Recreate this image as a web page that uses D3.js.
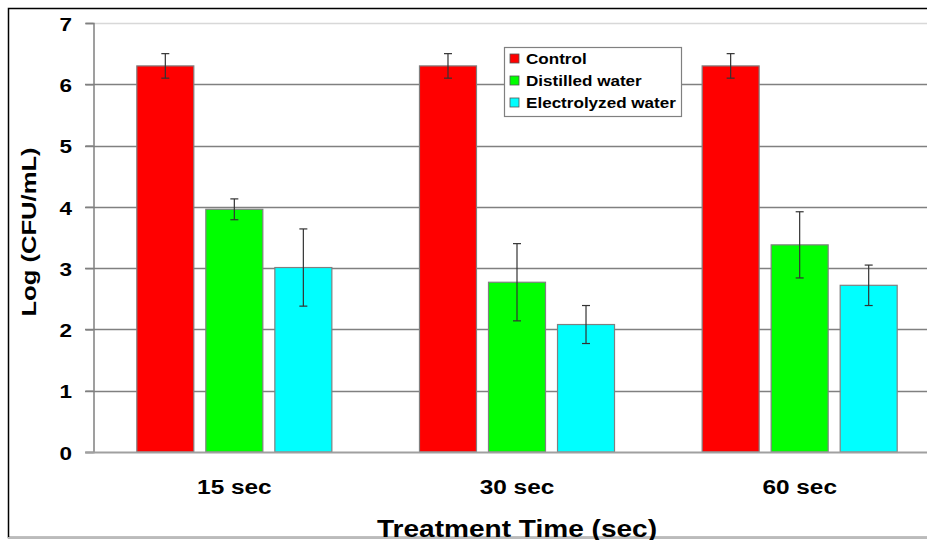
<!DOCTYPE html>
<html>
<head>
<meta charset="utf-8">
<script src="https://cdn.jsdelivr.net/npm/d3@7"></script>
<style>
  body { margin: 0; background: #fff; }
  svg text { font-family: "Liberation Sans", Arial, sans-serif; font-weight: bold; fill: #000; }
</style>
</head>
<body>
<div id="chart"></div>
<script>
// data
var times = ["15 sec", "30 sec", "60 sec"];
var seriesNames = ["Control", "Distilled water", "Electrolyzed water"];
var seriesColors = ["#ff0000", "#00ff00", "#00ffff"];
var controlValues = [6.30, 6.30, 6.30];
var controlErrors = [0.20, 0.20, 0.20];
var distilledValues = [3.96, 2.77, 3.38];
var distilledErrors = [0.17, 0.63, 0.54];
var electrolyzedValues = [3.01, 2.08, 2.72];
var electrolyzedErrors = [0.63, 0.31, 0.33];
var yTicks = [0, 1, 2, 3, 4, 5, 6, 7];

var valuesBySeries = [controlValues, distilledValues, electrolyzedValues];
var errorsBySeries = [controlErrors, distilledErrors, electrolyzedErrors];

var rows = [];
times.forEach(function (t, i) {
    seriesNames.forEach(function (s, j) {
        rows.push({ time: t, series: s, value: valuesBySeries[j][i], err: errorsBySeries[j][i], color: seriesColors[j] });
    });
});

var width = 927, height = 540;
var plot = { left: 93, right: 941, top: 23, bottom: 452 };
// the source picture has its text stretched sideways
var stretch = 1.22;

var svg = d3.select("#chart").append("svg")
    .attr("width", width)
    .attr("height", height);

// outer frame (cut on the right like the source image)
svg.append("rect")
    .attr("x", 8.5).attr("y", 8.5)
    .attr("width", 1000).attr("height", 529)
    .attr("fill", "none")
    .attr("stroke", "#000")
    .attr("stroke-width", 1.5);
svg.append("line")
    .attr("x1", 8).attr("x2", width)
    .attr("y1", 538).attr("y2", 538)
    .attr("stroke", "#bbb").attr("stroke-width", 2);

var y = d3.scaleLinear()
    .domain([0, 7])
    .range([plot.bottom, plot.top]);

var x0 = d3.scaleBand()
    .domain(times)
    .range([plot.left, plot.right])
    .paddingInner(0.31)
    .paddingOuter(0.155);

var x1 = d3.scaleBand()
    .domain(seriesNames)
    .range([0, x0.bandwidth()])
    .paddingInner(0.174);

// gridlines
svg.append("g")
    .selectAll("line")
    .data(yTicks.filter(function (d) { return d > 0; }))
    .enter().append("line")
    .attr("x1", 85).attr("x2", width)
    .attr("y1", function (d) { return Math.round(y(d)) + 0.5; })
    .attr("y2", function (d) { return Math.round(y(d)) + 0.5; })
    .attr("stroke", function (d) { return d === 7 ? "#d8d8d8" : "#808080"; })
    .attr("stroke-width", 1.5);

// y axis
var yAxis = d3.axisLeft(y)
    .tickValues(yTicks)
    .tickSize(8)
    .tickFormat(d3.format("d"));

var gy = svg.append("g")
    .attr("transform", "translate(" + (plot.left + 0.5) + ",0)")
    .call(yAxis);
gy.select(".domain").attr("stroke", "#808080").attr("stroke-width", 1.5);
gy.selectAll(".tick line").attr("stroke", "#808080").attr("stroke-width", 1.5);
gy.selectAll(".tick text")
    .attr("font-size", "18px")
    .attr("x", -21.5 / 1.25)
    .attr("dy", "0.4em")
    .attr("transform", "scale(1.25,1)");

// bars
var groups = svg.append("g")
    .selectAll("g")
    .data(times)
    .enter().append("g")
    .attr("transform", function (d) { return "translate(" + x0(d) + ",0)"; });

var bars = groups.selectAll("g")
    .data(function (t) { return rows.filter(function (r) { return r.time === t; }); })
    .enter().append("g");

bars.append("rect")
    .attr("x", function (d) { return x1(d.series); })
    .attr("y", function (d) { return y(d.value); })
    .attr("width", x1.bandwidth())
    .attr("height", function (d) { return y(0) - y(d.value); })
    .attr("fill", function (d) { return d.color; })
    .attr("stroke", "#808080")
    .attr("stroke-width", 1.2);

// error bars
bars.append("line")
    .attr("x1", function (d) { return x1(d.series) + x1.bandwidth() / 2; })
    .attr("x2", function (d) { return x1(d.series) + x1.bandwidth() / 2; })
    .attr("y1", function (d) { return y(d.value + d.err); })
    .attr("y2", function (d) { return y(d.value - d.err); })
    .attr("stroke", "#333").attr("stroke-width", 1.2);

[1, -1].forEach(function (sign) {
    bars.append("line")
        .attr("x1", function (d) { return x1(d.series) + x1.bandwidth() / 2 - 4; })
        .attr("x2", function (d) { return x1(d.series) + x1.bandwidth() / 2 + 4; })
        .attr("y1", function (d) { return y(d.value + sign * d.err); })
        .attr("y2", function (d) { return y(d.value + sign * d.err); })
        .attr("stroke", "#333").attr("stroke-width", 1.2);
});

// x axis line
svg.append("line")
    .attr("x1", 85).attr("x2", width)
    .attr("y1", y(0) + 0.5).attr("y2", y(0) + 0.5)
    .attr("stroke", "#a0a0a0").attr("stroke-width", 2);

// x category labels
svg.append("g")
    .selectAll("text")
    .data(times)
    .enter().append("text")
    .attr("transform", function (d) {
        return "translate(" + (x0(d) + x0.bandwidth() / 2) + ",494) scale(1.25,1)";
    })
    .attr("text-anchor", "middle")
    .attr("font-size", "19.5px")
    .text(function (d) { return d; });

// axis titles
svg.append("text")
    .attr("transform", "translate(36,232) rotate(-90) scale(" + stretch + ",1)")
    .attr("text-anchor", "middle")
    .attr("font-size", "21px")
    .text("Log (CFU/mL)");

svg.append("text")
    .attr("transform", "translate(517,537) scale(" + stretch + ",1)")
    .attr("text-anchor", "middle")
    .attr("font-size", "23px")
    .text("Treatment Time (sec)");

// legend
var legend = svg.append("g").attr("transform", "translate(504,47)");
legend.append("rect")
    .attr("x", 0.5).attr("y", 0.5)
    .attr("width", 177).attr("height", 69)
    .attr("fill", "#fff")
    .attr("stroke", "#808080").attr("stroke-width", 1.2);

var items = legend.selectAll(".item")
    .data(seriesNames)
    .enter().append("g")
    .attr("class", "item")
    .attr("transform", function (d, i) { return "translate(0," + (12 + i * 22) + ")"; });

items.append("rect")
    .attr("x", 6).attr("y", -5)
    .attr("width", 9).attr("height", 9)
    .attr("fill", function (d, i) { return seriesColors[i]; })
    .attr("stroke", "#555").attr("stroke-width", 0.8);

items.append("text")
    .attr("transform", "translate(22,5) scale(" + stretch + ",1)")
    .attr("font-size", "14px")
    .text(function (d) { return d; });
</script>
</body>
</html>
